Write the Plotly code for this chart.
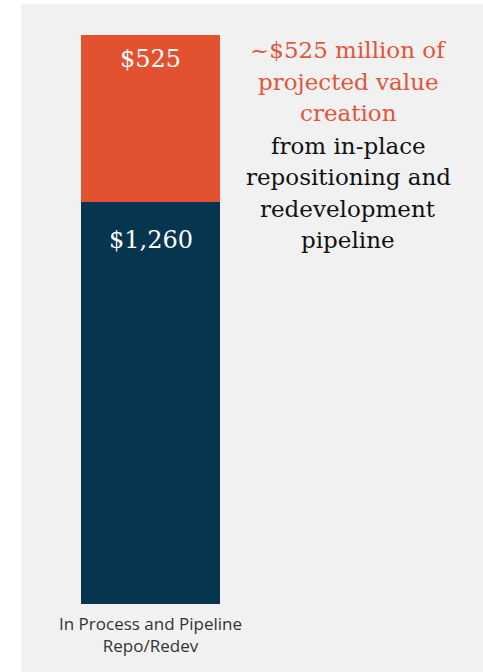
import plotly.graph_objects as go

categories = ["In Process and Pipeline<br>Repo/Redev"]
base_values = [1260]
top_values = [525]
navy = "#063550"
orange = "#e25130"

callout_orange = ["~$525 million of", "projected value", "creation"]
callout_black = ["from in-place", "repositioning and", "redevelopment", "pipeline"]

fig = go.Figure()
fig.add_trace(go.Bar(x=categories, y=base_values, marker_color=navy, width=1,
                     marker_line_width=0, hoverinfo="skip"))
fig.add_trace(go.Bar(x=categories, y=top_values, marker_color=orange, width=1,
                     marker_line_width=0, hoverinfo="skip"))

W, H = 483, 672
left_px = 21
top_px, bot_px = 35, 604
ph = bot_px - top_px
pw = W - left_px

def py(pix):
    return (bot_px - pix) / ph

def px(pix):
    return (pix - left_px) / pw

annotations = []
cum = 0
for vals, off in ((base_values, 38), (top_values, 24)):
    cum_v = cum + vals[0]
    annotations.append(dict(x=categories[0], y=cum_v, xref="x", yref="y",
                            text=f"${vals[0]:,}", showarrow=False,
                            yanchor="middle", yshift=-off,
                            font=dict(family="DejaVu Serif", size=24, color="white")))
    cum = cum_v

line_y = [50, 82, 113, 146, 177, 209, 240]
lines = [(t, "#e2553a") for t in callout_orange] + [(t, "#111111") for t in callout_black]
for (t, c), yy in zip(lines, line_y):
    annotations.append(dict(x=px(348), y=py(yy), xref="paper", yref="paper",
                            text=t, showarrow=False, xanchor="center", yanchor="middle",
                            font=dict(family="DejaVu Serif", size=23, color=c)))

fig.update_layout(
    width=W, height=H,
    margin=dict(l=left_px, r=0, t=top_px, b=H - bot_px, pad=0),
    barmode="stack",
    showlegend=False,
    paper_bgcolor="white",
    plot_bgcolor="#f1f1f1",
    annotations=annotations,
    shapes=[dict(type="rect", xref="paper", yref="paper", layer="below",
                 x0=0, x1=1, y0=py(672), y1=py(4), fillcolor="#f1f1f1", line_width=0)],
)
unit = 139
x0 = -0.5 - 60 / unit
fig.update_xaxes(range=[x0, x0 + pw / unit], showgrid=False, zeroline=False,
                 showline=False, ticks="", ticklabelstandoff=8,
                 tickfont=dict(family="Open Sans", size=17, color="#333333"))
fig.update_yaxes(range=[0, sum(base_values) + sum(top_values)], visible=False)
fig.write_html("out.html", config={"displayModeBar": False},
               post_script="document.body.style.margin='0';document.body.style.overflow='hidden';")
